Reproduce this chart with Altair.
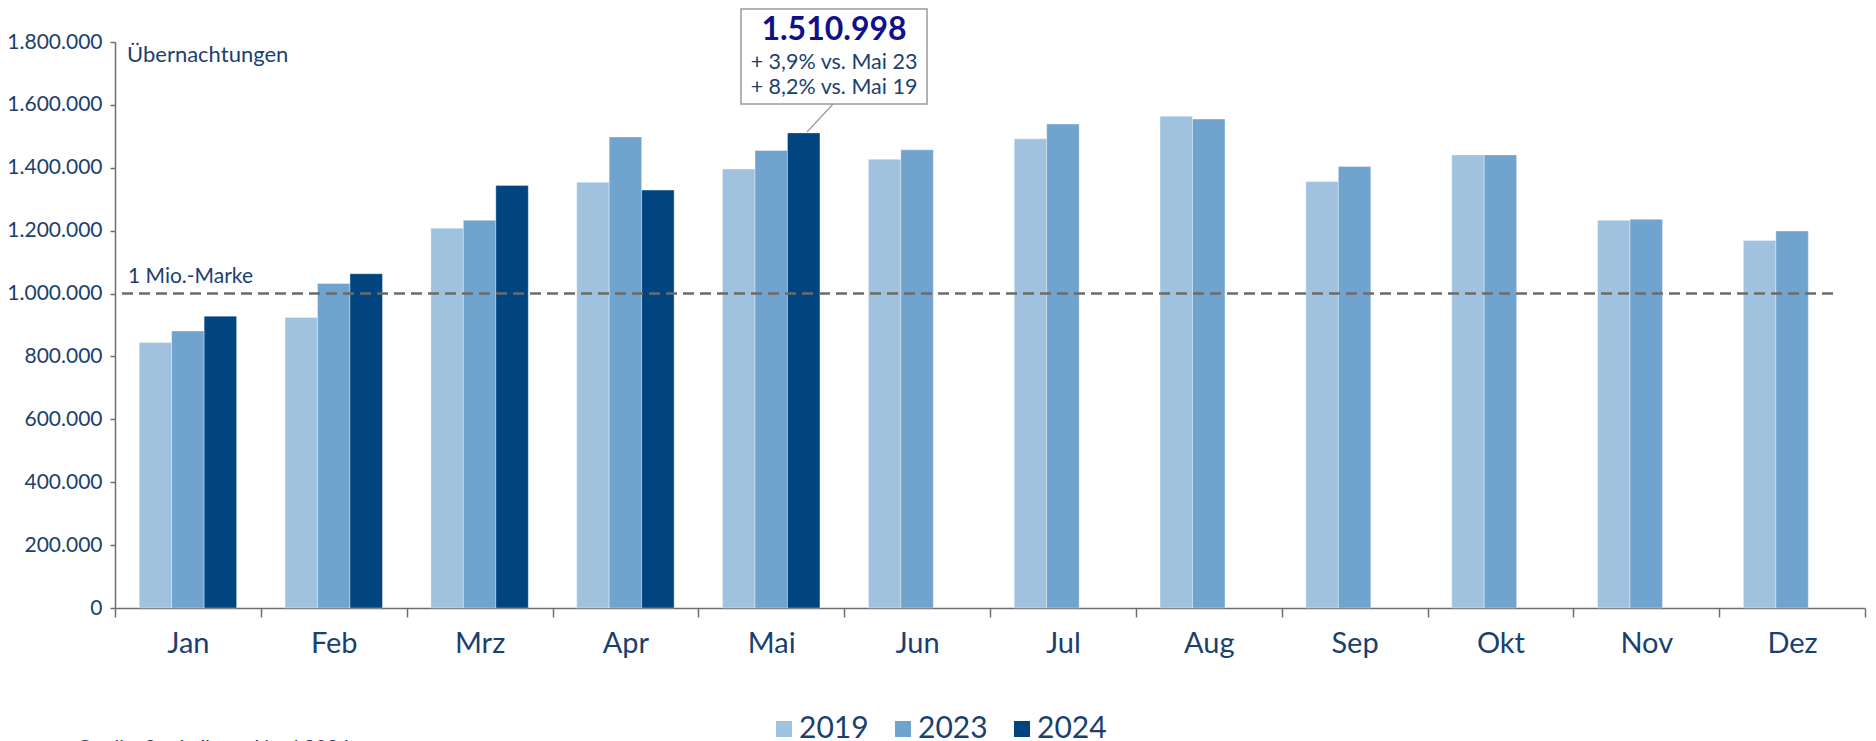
import altair as alt
import pandas as pd

months = ["Jan", "Feb", "Mrz", "Apr", "Mai", "Jun", "Jul", "Aug", "Sep", "Okt", "Nov", "Dez"]
years = ["2019", "2023", "2024"]
v2019 = [844000, 924000, 1208000, 1354000, 1396000, 1427000, 1492000, 1564000, 1356000, 1441000, 1233000, 1169000]
v2023 = [881000, 1032000, 1233000, 1498000, 1455000, 1457000, 1539000, 1555000, 1404000, 1441000, 1236000, 1199000]
v2024 = [928000, 1063000, 1344000, 1329000, 1510998]
colors = ["#a0c2de", "#70a3cd", "#00457f"]
y_ticks = [0, 200000, 400000, 600000, 800000, 1000000, 1200000, 1400000, 1600000, 1800000]
mark_value = [1000000]
mark_label = "1 Mio.-Marke"
y_title = "Übernachtungen"
callout_main = "1.510.998"
callout_lines = ["+ 3,9% vs. Mai 23", "+ 8,2% vs. Mai 19"]
source = "Quelle: Statistikamt Nord 2024"

TXT = "#1b3f6f"
GRAY = "#6e6e6e"
FONT = "Lato"
W, H = 1750, 566

rows = []
for yr, vals in zip(years, [v2019, v2023, v2024]):
    for m, v in zip(months, vals):
        rows.append({"Monat": m, "Jahr": yr, "Wert": v})
df = pd.DataFrame(rows)

bars = alt.Chart(df).mark_bar(stroke="white", strokeOpacity=0.35, strokeWidth=1).encode(
    x=alt.X("Monat:N", sort=months,
            scale=alt.Scale(domain=months, paddingInner=0, paddingOuter=0),
            axis=alt.Axis(title=None, tickBand="extent", labelAngle=0, labelFontSize=29,
                          labelFont=FONT, labelColor=TXT, tickSize=9, tickColor=GRAY,
                          tickWidth=1.5, domainColor=GRAY, domainWidth=1.5, labelPadding=12)),
    xOffset=alt.XOffset("Jahr:N", scale=alt.Scale(domain=years, paddingInner=0, paddingOuter=0.746)),
    y=alt.Y("Wert:Q", scale=alt.Scale(domain=[0, 1800000], nice=False),
            axis=alt.Axis(title=None, values=y_ticks, grid=False,
                          labelExpr="replace(format(datum.value, ','), /,/g, '.')",
                          labelFontSize=21, labelFont=FONT, labelColor=TXT, tickSize=5,
                          tickColor=GRAY, tickWidth=1.5, domainColor=GRAY, domainWidth=1.5,
                          labelPadding=8)),
    color=alt.Color("Jahr:N", scale=alt.Scale(domain=years, range=colors),
                    legend=alt.Legend(title=None, orient="none", legendX=654, legendY=672,
                                      direction="horizontal", symbolType="square", symbolSize=256,
                                      symbolStrokeWidth=0, labelFontSize=30, labelFont=FONT,
                                      labelColor=TXT, labelOffset=0, columnPadding=19)),
)

mdf = pd.DataFrame({"v": mark_value, "t": [mark_label]})
rule = alt.Chart(mdf).mark_rule(strokeDash=[11, 6], strokeWidth=2.5, color="#6b6b6b").encode(
    y="v:Q", x=alt.value(7), x2=alt.value(1718))
rule_text = alt.Chart(mdf).mark_text(align="left", baseline="alphabetic", dy=-11,
                                     fontSize=21, font=FONT, color=TXT).encode(
    y="v:Q", x=alt.value(13), text="t:N")

ytitle = alt.Chart(pd.DataFrame({"t": [y_title]})).mark_text(
    align="left", baseline="middle", fontSize=22, font=FONT, color=TXT).encode(
    x=alt.value(12), y=alt.value(13), text="t:N")

box = alt.Chart(pd.DataFrame({"a": [1]})).mark_rect(fill="white", stroke="#9a9a9a", strokeWidth=1.5).encode(
    x=alt.value(626), x2=alt.value(812), y=alt.value(-33), y2=alt.value(62))
connector = alt.Chart(pd.DataFrame({"a": [1]})).mark_rule(color="#9a9a9a", strokeWidth=1.2).encode(
    x=alt.value(718), y=alt.value(62), x2=alt.value(692), y2=alt.value(90))
c_main = alt.Chart(pd.DataFrame({"t": [callout_main]})).mark_text(
    align="center", baseline="alphabetic", fontSize=32, fontWeight="bold", font=FONT,
    color="#10108a").encode(x=alt.value(719), y=alt.value(-2), text="t:N")
c_lines = alt.Chart(pd.DataFrame({"t": callout_lines, "yy": [27, 52]})).mark_text(
    align="center", baseline="alphabetic", fontSize=21.5, font=FONT, color=TXT).encode(
    x=alt.value(719), y=alt.Y("yy:Q", scale=None), text="t:N")

src = alt.Chart(pd.DataFrame({"t": [source]})).mark_text(
    align="left", baseline="top", fontSize=20, font=FONT, color=TXT).encode(
    x=alt.value(-38), y=alt.value(696), text="t:N")

chart = alt.layer(bars, rule, rule_text, ytitle, connector, box, c_main, c_lines, src).properties(
    width=W, height=H,
    autosize=alt.AutoSizeParams(type="none"),
    padding={"left": 107, "top": 34, "right": 3, "bottom": 140},
).configure_view(stroke=None)

chart.save("out.html", embed_options={"renderer": "svg", "actions": False})
